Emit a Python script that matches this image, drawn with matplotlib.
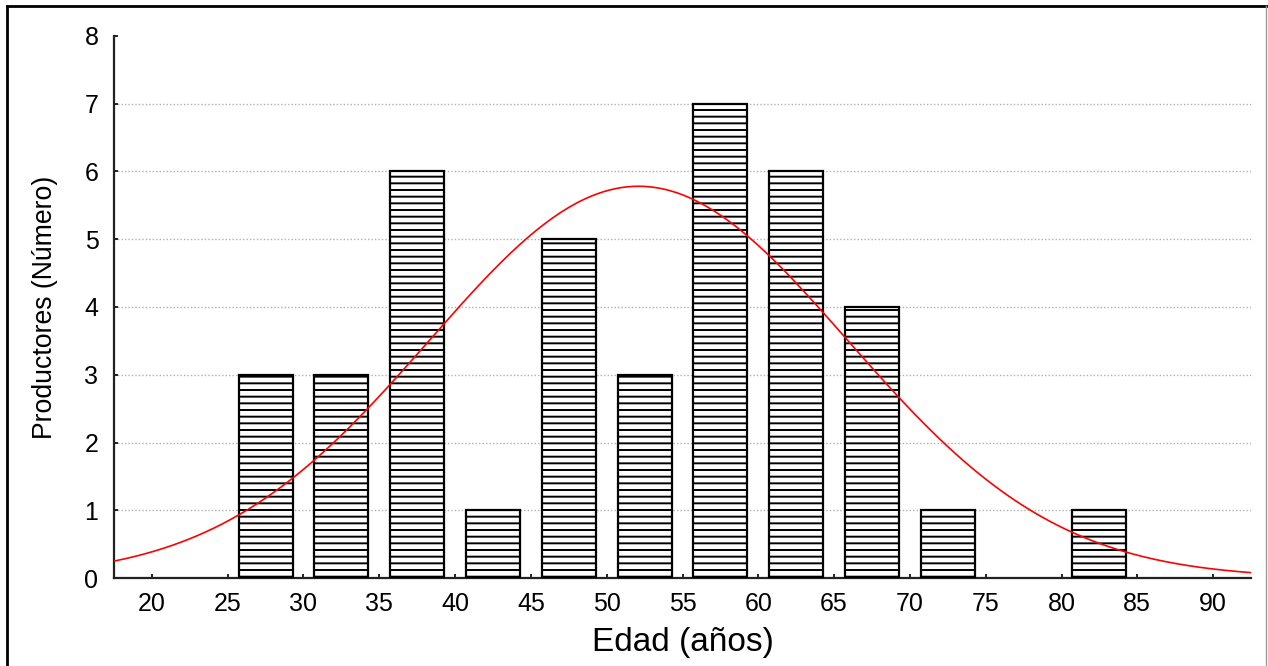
import numpy as np
import matplotlib
matplotlib.use("Agg")
import matplotlib.pyplot as plt
from matplotlib.lines import Line2D

# age classes (bin centres, 5-year bins) and number of producers
bin_centers = [27.5, 32.5, 37.5, 42.5, 47.5, 52.5, 57.5, 62.5, 67.5, 72.5, 82.5]
counts = [3, 3, 6, 1, 5, 3, 7, 6, 4, 1, 1]
x_ticks = [20, 25, 30, 35, 40, 45, 50, 55, 60, 65, 70, 75, 80, 85, 90]
y_ticks = [0, 1, 2, 3, 4, 5, 6, 7, 8]

# fitted normal curve parameters
fit_mean = 52.1
fit_sd = 13.8
bin_width = 5

plt.rcParams['font.family'] = ['Liberation Sans', 'DejaVu Sans']
plt.rcParams['hatch.linewidth'] = 0.7
plt.rcParams['hatch.color'] = 'black'

fig = plt.figure(figsize=(6.34, 3.33), dpi=200)
ax = fig.add_axes([0.0899, 0.1321, 0.8967, 0.8139])

ax.bar(bin_centers, counts, width=3.55, color='white', edgecolor='black',
       linewidth=0.8, hatch='-----', zorder=3)

n_total = sum(counts)
xs = np.linspace(17.5, 92.5, 400)
pdf = np.exp(-0.5 * ((xs - fit_mean) / fit_sd) ** 2) / (fit_sd * np.sqrt(2 * np.pi))
ax.plot(xs, n_total * bin_width * pdf, color='red', linewidth=0.6, zorder=4)

ax.set_xlim(17.5, 92.5)
ax.set_ylim(0, 8)
ax.set_xticks(x_ticks)
ax.set_yticks(y_ticks)
ax.tick_params(direction='in', length=1.5, width=0.6, labelsize=9)
ax.tick_params(axis='x', pad=5.0)
ax.tick_params(axis='y', pad=5.6)

for v in y_ticks[1:-1]:
    ax.axhline(v, color='#b0b0b0', linewidth=0.5, linestyle=(0, (1, 1.5)), zorder=1)

for s in ['top', 'right']:
    ax.spines[s].set_visible(False)
for s in ['left', 'bottom']:
    ax.spines[s].set_linewidth(0.8)
    ax.spines[s].set_color('#222222')

ax.set_xlabel('Edad (años)', fontsize=12, labelpad=4)
ax.set_ylabel('Productores (Número)', fontsize=9.6, labelpad=9.5)

# outer frame of the picture
fig.add_artist(Line2D([0.0055, 0.0055], [0, 0.991], transform=fig.transFigure,
                      color='black', linewidth=1.0))
fig.add_artist(Line2D([0.0055, 1.0], [0.991, 0.991], transform=fig.transFigure,
                      color='black', linewidth=1.0))
fig.add_artist(Line2D([0.9985, 0.9985], [0, 0.991], transform=fig.transFigure,
                      color='#999999', linewidth=0.5))

fig.savefig('out.png', dpi=200)
